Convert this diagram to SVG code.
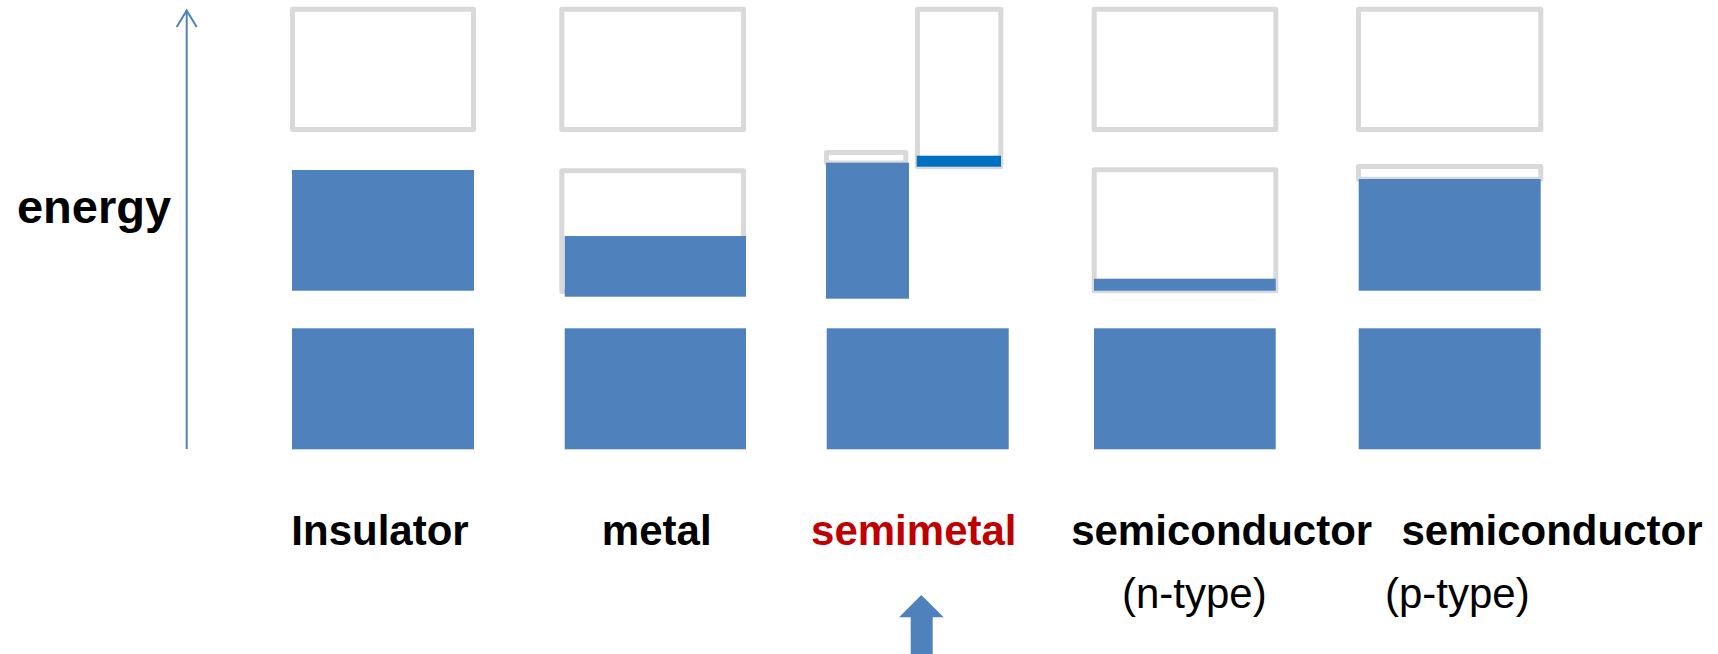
<svg xmlns="http://www.w3.org/2000/svg" width="1718" height="654" viewBox="0 0 1718 654">
<defs>
<style>
.band{fill:#4F81BD}
.empty{fill:#FFFFFF;stroke:#D9D9D9;stroke-width:5;stroke-linejoin:round}
.lbl{font-family:"Liberation Sans",Arial,sans-serif;font-size:42px;font-weight:bold;fill:#000000;text-anchor:middle}
.sub{font-family:"Liberation Sans",Arial,sans-serif;font-size:42px;fill:#000000;text-anchor:middle}
.axis{fill:none;stroke:#4F81BD;stroke-width:2}
</style>
</defs>
<rect width="1718" height="654" fill="#FFFFFF"/>

<g id="connectors">
<line class="axis" x1="186.7" y1="449" x2="186.7" y2="10.5"/>
<path class="axis" d="M176.7,27 L186.7,10.5 L196.7,27"/>
<path d="M921.3,595 L943.7,617.3 L932.7,617.3 L932.7,654 L910.7,654 L910.7,617.3 L899,617.3 Z" fill="#4F81BD"/>
</g>

<g id="energy-label">
<text x="94" y="222.5" class="lbl" style="font-size:47px">energy</text>
</g>

<g id="insulator">
<rect class="empty" x="292.5" y="9.2" width="181" height="120.3"/>
<rect class="band" x="292" y="170" width="182" height="120.7"/>
<rect class="band" x="292" y="328.3" width="182" height="121"/>
<text x="380" y="544.5" class="lbl">Insulator</text>
</g>

<g id="metal">
<rect class="empty" x="561.8" y="9.2" width="181.7" height="120.3"/>
<rect class="empty" x="561.8" y="170.8" width="181.7" height="120.7"/>
<rect class="band" x="564.7" y="236" width="181.3" height="60.7"/>
<rect class="band" x="564.7" y="328.3" width="181.3" height="121"/>
<text x="656.7" y="544.5" class="lbl">metal</text>
</g>

<g id="semimetal">
<rect class="empty" x="826.5" y="152.5" width="79.3" height="10.5"/>
<rect class="band" x="826" y="162.7" width="83" height="136"/>
<rect class="empty" x="917.5" y="9.2" width="83.3" height="157.6"/>
<rect x="916.7" y="155.7" width="84.3" height="11" fill="#0070C0"/>
<rect class="band" x="826.7" y="328.3" width="182" height="121"/>
<text x="913.8" y="544.5" class="lbl" style="fill:#C00000">semimetal</text>
</g>

<g id="semiconductor-n">
<rect class="empty" x="1094.2" y="9.2" width="181.6" height="120.3"/>
<rect class="empty" x="1094.2" y="169.8" width="181.6" height="121"/>
<rect class="band" x="1094" y="278.7" width="181.7" height="12"/>
<rect class="band" x="1094" y="328.3" width="181.7" height="121"/>
<text x="1221.7" y="544.5" class="lbl">semiconductor</text>
<text x="1194.3" y="608" class="sub">(n-type)</text>
</g>

<g id="semiconductor-p">
<rect class="empty" x="1358.5" y="9.2" width="182.3" height="120.3"/>
<rect class="empty" x="1358.5" y="166.5" width="182.3" height="12.7"/>
<rect class="band" x="1358.7" y="179" width="182" height="111.7"/>
<rect class="band" x="1358.7" y="328.3" width="182" height="121"/>
<text x="1552" y="544.5" class="lbl">semiconductor</text>
<text x="1457.3" y="608" class="sub">(p-type)</text>
</g>
</svg>
